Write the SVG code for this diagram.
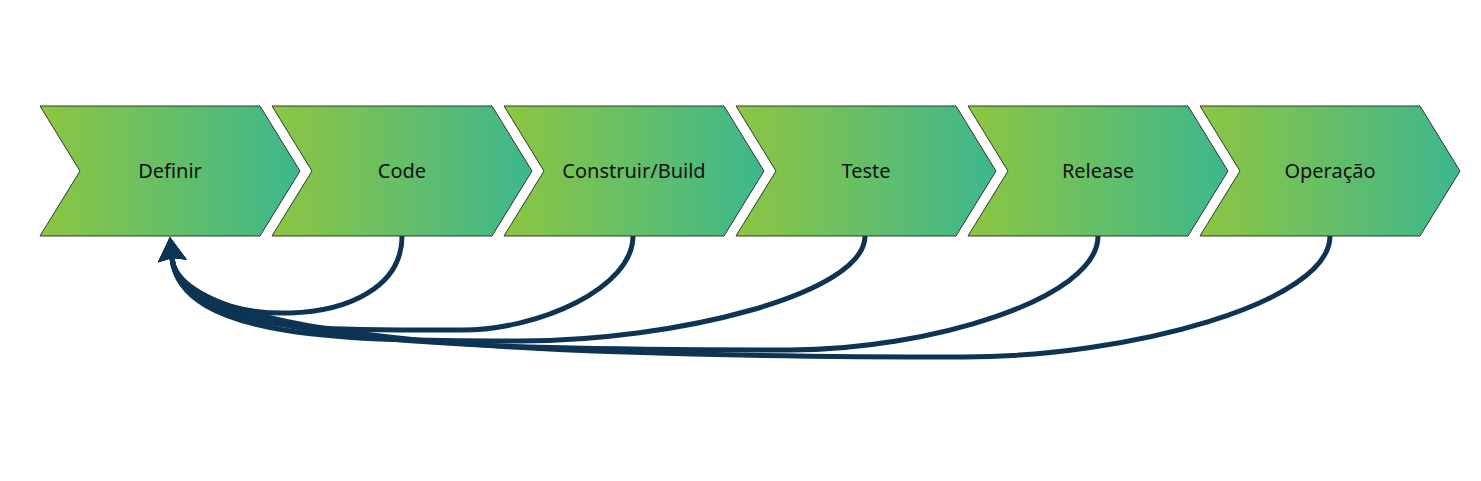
<svg xmlns="http://www.w3.org/2000/svg" width="1481" height="481" viewBox="0 0 1481 481">
  <defs>
    <linearGradient id="g" x1="0" y1="0" x2="1" y2="0">
      <stop offset="0" stop-color="#8DC641"/>
      <stop offset="1" stop-color="#3DB78E"/>
    </linearGradient>
    <marker id="arr" markerUnits="userSpaceOnUse" markerWidth="40" markerHeight="40" viewBox="-5 -20 30 40" refX="0" refY="0" orient="auto" overflow="visible">
      <path d="M21,0 L-3,-14.5 L0,0 L-3,14.5 Z" fill="#0E3454"/>
    </marker>
    <style>
      .chev { fill: url(#g); stroke: #2b3a2b; stroke-width: 1; }
      .lbl { font-family: "Noto Sans", "Open Sans", sans-serif; font-size: 20px; fill: #111; text-anchor: middle; }
      .con { fill: none; stroke: #0E3454; stroke-width: 5; marker-end: url(#arr); }
    </style>
  </defs>
  <rect width="1481" height="481" fill="#ffffff"/>

  <g id="connectors">
    <path class="con" d="M402,236 C402,340 180,330 172,258"/>
    <path class="con" d="M633,236 C633,288 539,330 462,330 C330,330 180,335 172,258"/>
    <path class="con" d="M865,236 C865,294 675,341 520,341 C350,341 180,340 172,258"/>
    <path class="con" d="M1098,236 C1098,299 928,350 790,350 C450,350 180,343 172,258"/>
    <path class="con" d="M1330,236 C1330,303 1128,357 964,357 C560,357 180,345 172,258"/>
  </g>

  <g id="n1">
    <polygon class="chev" points="40,106 260,106 300,171 260,236 40,236 80,171"/>
    <text class="lbl" x="170" y="177.5">Definir</text>
  </g>
  <g id="n2">
    <polygon class="chev" points="272,106 492,106 532,171 492,236 272,236 312,171"/>
    <text class="lbl" x="402" y="177.5">Code</text>
  </g>
  <g id="n3">
    <polygon class="chev" points="504,106 724,106 764,171 724,236 504,236 544,171"/>
    <text class="lbl" x="634" y="177.5">Construir/Build</text>
  </g>
  <g id="n4">
    <polygon class="chev" points="736,106 956,106 996,171 956,236 736,236 776,171"/>
    <text class="lbl" x="866" y="177.5">Teste</text>
  </g>
  <g id="n5">
    <polygon class="chev" points="968,106 1188,106 1228,171 1188,236 968,236 1008,171"/>
    <text class="lbl" x="1098" y="177.5">Release</text>
  </g>
  <g id="n6">
    <polygon class="chev" points="1200,106 1420,106 1460,171 1420,236 1200,236 1240,171"/>
    <text class="lbl" x="1330" y="177.5">Operação</text>
  </g>
</svg>
